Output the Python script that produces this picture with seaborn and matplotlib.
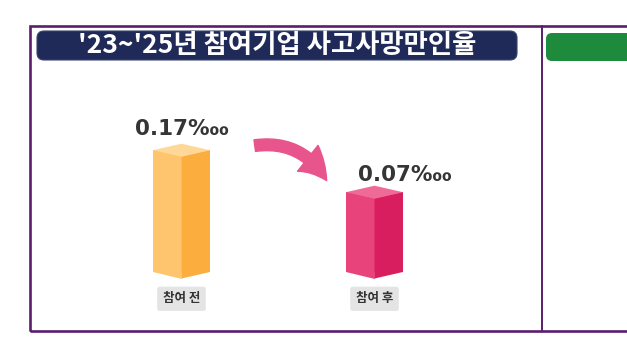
import matplotlib
matplotlib.use("Agg")
import matplotlib.pyplot as plt
import seaborn as sns
import numpy as np
from matplotlib.patches import Polygon, FancyBboxPatch, Rectangle, FancyArrowPatch
from matplotlib.transforms import IdentityTransform

# ---- data ----
categories = ["참여 전", "참여 후"]
values = [0.17, 0.07]
value_labels = ["0.17‱", "0.07‱"]
title = "'23~'25년 참여기업 사고사망만인율"

sns.set_theme(style="white")
plt.rcParams['font.family'] = ['Noto Sans CJK KR', 'DejaVu Sans']

W, H = 627, 355
fig = plt.figure(figsize=(W / 100, H / 100), dpi=100)
fig.patch.set_facecolor("white")

def px(x, y):
    """pixel (from top-left) -> display coords"""
    return (x, H - y)

# ---- layout constants ----
BASE = -0.12          # visual baseline of the (non-zero based) bar scale
SCALE = 420.0         # pixels per data unit
AX_L, AX_R, AX_T, AX_B = 85, 471, 100, 284
BASE_PX = 272
ax = fig.add_axes([AX_L / W, 1 - AX_B / H, (AX_R - AX_L) / W, (AX_B - AX_T) / H])

face_left = ["#FFC56E", "#E8437B"]
face_right = ["#FBAE3E", "#D81E5F"]
face_top = ["#FFD796", "#EF6A97"]

sns.barplot(x=categories, y=values, hue=categories, palette=face_left,
            width=0.295, saturation=1, legend=False, ax=ax, edgecolor="none")

ylo = BASE - (AX_B - BASE_PX) / SCALE
yhi = BASE + (BASE_PX - AX_T) / SCALE
ax.set_ylim(ylo, yhi)
ax.set_xlim(-0.5, 1.5)

depth = 6.5 / SCALE
patches = sorted(ax.patches, key=lambda p: p.get_x())
label_off = [(0, 21), (30, 17.5)]
for i, p in enumerate(patches):
    x0, w = p.get_x(), p.get_width()
    v = p.get_height()
    p.set_y(BASE)
    p.set_height(v - BASE)
    xm, x1 = x0 + w / 2, x0 + w
    # right face (darker)
    ax.add_patch(Polygon([(xm, BASE - depth), (x1, BASE), (x1, v), (xm, v - depth)],
                         closed=True, fc=face_right[i], ec="none", zorder=3))
    # left bottom wedge
    ax.add_patch(Polygon([(x0, BASE), (xm, BASE), (xm, BASE - depth)],
                         closed=True, fc=face_left[i], ec="none", zorder=3))
    # top face
    ax.add_patch(Polygon([(x0, v), (xm, v - depth), (x1, v), (xm, v + depth)],
                         closed=True, fc=face_top[i], ec="none", zorder=4))
    dx, dy = label_off[i]
    ax.annotate(value_labels[i], xy=(xm, v), xytext=(dx, dy), textcoords="offset pixels",
                ha="center", va="center", fontsize=15.5, fontweight="bold",
                color="#353535", family=["DejaVu Sans"], annotation_clip=False)

ax.set_xticks(range(len(categories)))
ax.set_xticklabels(categories)
ax.tick_params(axis="x", length=0, pad=6)
for t in ax.get_xticklabels():
    t.set_fontsize(9)
    t.set_color("#333333")
    t.set_fontweight("bold")
    t.set_bbox(dict(boxstyle="round,pad=0.45,rounding_size=0.2", fc="#E4E4E4", ec="none"))
ax.set_yticks([])
ax.set_xlabel("")
ax.set_ylabel("")
for s in ax.spines.values():
    s.set_visible(False)
ax.set_facecolor("none")

idt = IdentityTransform()
# outer frame
frame_col = "#5B1E6D"
fig.patches.append(Rectangle(px(30, 331), 640, 305, fill=False, ec=frame_col, lw=1.9,
                             transform=idt, figure=fig))
# divider
fig.lines.append(plt.Line2D([542, 542], [H - 26, H - 331], color=frame_col, lw=1.4,
                            transform=idt, figure=fig))
# title box
fig.patches.append(FancyBboxPatch(px(37, 60), 480, 29,
                                  boxstyle="round,pad=0,rounding_size=7",
                                  fc="#1F2A58", ec="#3A4470", lw=0.8,
                                  transform=idt, figure=fig))
fig.text(277 / W, 1 - 45.5 / H, title, ha="center", va="center", color="white",
         fontsize=19, fontweight="bold", family=['Noto Sans CJK KR', 'DejaVu Sans'])
# green box on the right panel
fig.patches.append(FancyBboxPatch(px(546, 61), 100, 28,
                                  boxstyle="round,pad=0,rounding_size=6",
                                  fc="#1E8B3C", ec="none", transform=idt, figure=fig))
# curved arrow
arr = FancyArrowPatch(px(252, 146), px(328, 183),
                      connectionstyle="arc3,rad=-0.35",
                      arrowstyle="simple,head_length=1.5,head_width=1.7,tail_width=0.6",
                      mutation_scale=14, color="#E8558C", transform=idt, figure=fig)
fig.patches.append(arr)

fig.savefig("out.png", dpi=100)
